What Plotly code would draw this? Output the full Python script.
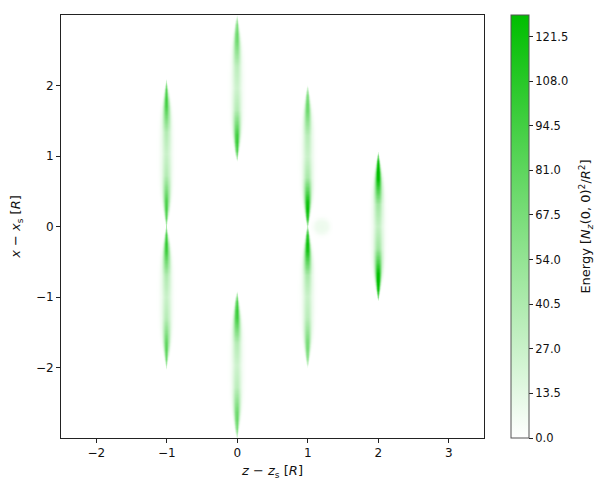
import numpy as np
import plotly.graph_objects as go

# ---- data ----
lobe_z = [-1.0, -1.0, 0.0, 0.0, 1.0, 1.0, 2.0]
lobe_x = [1.03, -1.0, 1.96, -1.97, 0.99, -0.99, 0.0]
lobe_half = [1.03, 1.0, 1.02, 1.03, 0.99, 0.99, 1.03]
lobe_top = [88, 95, 68, 95, 68, 118, 128]      # peak energy near upper end
lobe_bottom = [85, 75, 95, 70, 122, 62, 128]   # peak energy near lower end
lobe_mid = [27, 27, 25, 25, 27, 27, 30]        # energy at lobe centre
spot_z = [1.2]
spot_x = [0.0]
spot_val = [9]
spot_r = [0.11]

cbar_ticks = [0.0, 13.5, 27.0, 40.5, 54.0, 67.5, 81.0, 94.5, 108.0, 121.5]
e_max = 128.0

W0 = 0.068
tk = [0, 0.3, 0.5, 0.65, 0.75, 0.88, 0.97, 1.03, 2]
mk = [0, 0.15, 0.55, 0.9, 1.0, 0.88, 0.45, 0, 0]
ck = [1, 0.93, 0.7, 0.45, 0.25, 0.1, 0.04, 0, 0]

fig = go.Figure()
cols = sorted(set(lobe_z))
for zc in cols:
    idx = [i for i, z in enumerate(lobe_z) if z == zc]
    zmin, zmax = zc - 0.18, zc + 0.18
    sidx = [j for j, z in enumerate(spot_z) if abs(z - zc) < 0.5]
    for j in sidx:
        zmax = max(zmax, spot_z[j] + spot_r[j] + 0.05)
    xmin = min(lobe_x[i] - lobe_half[i] * 1.05 for i in idx)
    xmax = max(lobe_x[i] + lobe_half[i] * 1.05 for i in idx)
    xmin, xmax = max(xmin, -3.0), min(xmax, 3.0)
    zg = np.arange(zmin, zmax, 0.005)
    xg = np.arange(xmin, xmax, 0.008)
    Z, X = np.meshgrid(zg, xg)
    E = np.zeros_like(Z)
    for i in idx:
        t = (X - lobe_x[i]) / lobe_half[i]
        at = np.abs(t)
        m = np.interp(at, tk, mk)
        c = np.interp(at, tk, ck)
        end = np.where(t > 0, lobe_top[i], lobe_bottom[i])
        a = lobe_mid[i] * c + end * m
        sig = W0 * np.clip(1 - 0.9 * t ** 2, 0.07, None)
        E += a * np.exp(-((Z - lobe_z[i]) / sig) ** 2)
    for j in sidx:
        r = np.hypot(Z - spot_z[j], X - spot_x[j])
        E += spot_val[j] / (1 + np.exp((r - spot_r[j]) / 0.02))
    fig.add_trace(go.Heatmap(x=np.round(zg, 4), y=np.round(xg, 4), z=np.round(E, 1),
                             coloraxis="coloraxis", hoverinfo="skip"))

axis_common = dict(showgrid=False, zeroline=False, showline=True, mirror=True,
                   linecolor="#222", linewidth=1, ticks="outside", ticklen=4,
                   tickcolor="#222", tickfont=dict(size=12, color="#111", family="DejaVu Sans"))

fig.update_layout(
    width=605, height=483,
    margin=dict(l=53, r=129, t=7, b=53),
    plot_bgcolor="white", paper_bgcolor="white",
    font=dict(family="DejaVu Sans", color="#111"),
    xaxis=dict(range=[-2.5, 3.5], tickvals=[-2, -1, 0, 1, 2, 3],
               title=dict(text="<i>z</i> − <i>z</i><sub>s</sub> [<i>R</i>]", font=dict(size=13), standoff=6),
               **axis_common),
    yaxis=dict(range=[-3, 3], tickvals=[-2, -1, 0, 1, 2],
               title=dict(text="<i>x</i> − <i>x</i><sub>s</sub> [<i>R</i>]", font=dict(size=13), standoff=12),
               **axis_common),
    coloraxis=dict(
        cmin=0, cmax=e_max,
        colorscale=[[0, "rgb(255,255,255)"], [1, "rgb(0,190,0)"]],
        colorbar=dict(
            x=1.064, xanchor="left", y=0.5, yanchor="middle",
            len=1.0, lenmode="fraction", thickness=18, xpad=0, ypad=0,
            outlinecolor="#555", outlinewidth=1,
            ticks="outside", ticklen=4, tickcolor="#222",
            tickvals=cbar_ticks, ticktext=["%.1f" % v for v in cbar_ticks],
            tickfont=dict(size=11.5, color="#111"),
        ),
    ),
    annotations=[dict(
        text="Energy [<i>N<sub>z</sub></i>(0, 0)<sup>2</sup>/<i>R</i><sup>2</sup>]",
        x=1.239, y=0.5, xref="paper", yref="paper", xanchor="center", yanchor="middle",
        textangle=-90, showarrow=False, font=dict(size=13, color="#111"))],
)

fig.write_html("out.html")
